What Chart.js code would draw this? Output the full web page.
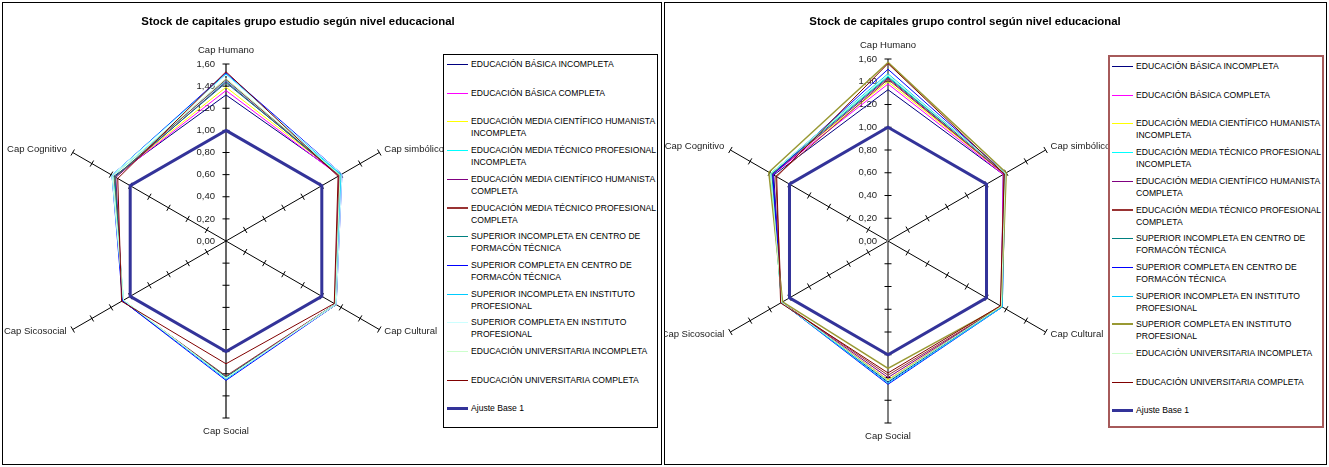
<!DOCTYPE html>
<html>
<head>
<meta charset="utf-8">
<title>Stock de capitales según nivel educacional</title>
<script src="https://cdn.jsdelivr.net/npm/chart.js@4/dist/chart.umd.min.js"></script>
<style>
  body { margin: 0; width: 1329px; height: 467px; background: #fff; position: relative; overflow: hidden;
         font-family: Arial, "Liberation Sans", sans-serif; color: #000; }
  .panel { position: absolute; top: 2px; height: 463px; border: 1px solid #000; box-sizing: border-box; }
  .title { position: absolute; top: 15px; font-weight: bold; font-size: 11.4px; white-space: nowrap;
           transform: translateX(-50%); }
  canvas { position: absolute; top: 0; }
  .legend { position: absolute; box-sizing: border-box; background: #fff; }
  .item { position: absolute; left: 0; right: 0; font-size: 8.6px; line-height: 12.4px; }
  .swatch { position: absolute; top: 6px; height: 0; }
  .label { position: absolute; width: 192px; }
</style>
</head>
<body>

<div class="panel" style="left:2px; width:660px;"></div>
<div class="panel" style="left:664px; width:663px;"></div>

<canvas id="estudio" width="443" height="467" style="left:0;"></canvas>
<canvas id="control" width="444" height="467" style="left:664px;"></canvas>

<div class="title" style="left:298px;">Stock de capitales grupo estudio según nivel educacional</div>
<div class="title" style="left:965px;">Stock de capitales grupo control según nivel educacional</div>

<div class="legend" id="legend-estudio" style="left:443px; top:54px; width:215px; height:374px; border:1px solid #000;"></div>
<div class="legend" id="legend-control" style="left:1108px; top:55px; width:216px; height:373px; border:2px solid #a65a5a;"></div>

<script>
// ─── DATA ─────────────────────────────────────────────────────────────────────
const AXES = ['Cap Humano', 'Cap simbólico', 'Cap Cultural', 'Cap Social', 'Cap Sicosocial', 'Cap Cognitivo'];

const TICK_VALUES = [0, 0.2, 0.4, 0.6, 0.8, 1.0, 1.2, 1.4, 1.6];
const TICK_LABELS = ['0,00', '0,20', '0,40', '0,60', '0,80', '1,00', '1,20', '1,40', '1,60'];

const SERIES_NAMES = [
    'EDUCACIÓN BÁSICA INCOMPLETA',
    'EDUCACIÓN BÁSICA COMPLETA',
    'EDUCACIÓN MEDIA CIENTÍFICO HUMANISTA INCOMPLETA',
    'EDUCACIÓN MEDIA TÉCNICO PROFESIONAL INCOMPLETA',
    'EDUCACIÓN MEDIA CIENTÍFICO HUMANISTA COMPLETA',
    'EDUCACIÓN MEDIA TÉCNICO PROFESIONAL COMPLETA',
    'SUPERIOR INCOMPLETA EN CENTRO DE FORMACÓN TÉCNICA',
    'SUPERIOR COMPLETA EN CENTRO DE FORMACÓN TÉCNICA',
    'SUPERIOR INCOMPLETA EN INSTITUTO PROFESIONAL',
    'SUPERIOR COMPLETA EN INSTITUTO PROFESIONAL',
    'EDUCACIÓN UNIVERSITARIA INCOMPLETA',
    'EDUCACIÓN UNIVERSITARIA COMPLETA',
    'Ajuste Base 1',
];

// one row per series, columns follow AXES
const ESTUDIO_VALUES = [
    [1.32, 1.19, 1.15, 1.24, 1.08, 1.17],
    [1.36, 1.18, 1.14, 1.23, 1.08, 1.16],
    [1.39, 1.19, 1.15, 1.23, 1.08, 1.16],
    [1.45, 1.20, 1.14, 1.24, 1.07, 1.18],
    [1.44, 1.18, 1.14, 1.23, 1.08, 1.15],
    [1.46, 1.18, 1.14, 1.22, 1.08, 1.16],
    [1.43, 1.19, 1.15, 1.23, 1.08, 1.16],
    [1.52, 1.21, 1.15, 1.26, 1.08, 1.19],
    [1.51, 1.20, 1.14, 1.25, 1.07, 1.19],
    [1.50, 1.21, 1.15, 1.24, 1.07, 1.19],
    [1.47, 1.19, 1.14, 1.24, 1.07, 1.18],
    [1.53, 1.17, 1.13, 1.11, 1.09, 1.13],
    [1.00, 1.00, 1.00, 1.00, 1.00, 1.00],
];

const CONTROL_VALUES = [
    [1.33, 1.17, 1.15, 1.24, 1.08, 1.16],
    [1.38, 1.17, 1.15, 1.22, 1.08, 1.17],
    [1.40, 1.18, 1.15, 1.22, 1.08, 1.18],
    [1.45, 1.19, 1.15, 1.23, 1.08, 1.19],
    [1.43, 1.18, 1.15, 1.20, 1.08, 1.17],
    [1.42, 1.18, 1.15, 1.18, 1.08, 1.14],
    [1.44, 1.19, 1.15, 1.23, 1.08, 1.18],
    [1.51, 1.19, 1.16, 1.26, 1.08, 1.17],
    [1.47, 1.19, 1.16, 1.25, 1.08, 1.19],
    [1.57, 1.20, 1.15, 1.12, 1.07, 1.21],
    [1.46, 1.19, 1.15, 1.23, 1.08, 1.19],
    [1.56, 1.18, 1.14, 1.16, 1.09, 1.13],
    [1.00, 1.00, 1.00, 1.00, 1.00, 1.00],
];

const ESTUDIO_COLORS = ['#000080', '#ff00ff', '#ffff00', '#00ffff', '#800080', '#993333',
                        '#008080', '#0000ff', '#00ccff', '#ccffff', '#ccffcc', '#800000', '#333399'];
const CONTROL_COLORS = ['#000080', '#ff00ff', '#ffff00', '#00ffff', '#800080', '#993333',
                        '#008080', '#0000ff', '#00ccff', '#999933', '#ccffcc', '#800000', '#333399'];

const ESTUDIO_WIDTHS = [1, 1, 1, 1, 1, 1, 1, 1, 1, 1, 1, 1, 3];
const CONTROL_WIDTHS = [1, 1, 1, 1, 1, 1, 1, 1, 1, 1.5, 1, 1, 3];

// ─── AXIS DECORATION (tick marks, value labels, axis names) ──────────────────
const axisDecor = {
    id: 'axisDecor',
    beforeDatasetsDraw(chart) {
        const r   = chart.scales.r;
        const ctx = chart.ctx;
        ctx.save();

        // small cross ticks on every spoke
        ctx.strokeStyle = '#000';
        ctx.lineWidth = 1;
        AXES.forEach((_, i) => {
            TICK_VALUES.forEach((v) => {
                if (v === 0) return;
                const p  = r.getPointPositionForValue(i, v);
                const nx = -Math.sin(p.angle), ny = Math.cos(p.angle);
                ctx.beginPath();
                ctx.moveTo(p.x - nx * 3.5, p.y - ny * 3.5);
                ctx.lineTo(p.x + nx * 3.5, p.y + ny * 3.5);
                ctx.stroke();
            });
        });

        // value labels left of the vertical spoke
        ctx.fillStyle = '#222';
        ctx.font = '9.5px Arial, "Liberation Sans", sans-serif';
        ctx.textAlign = 'right';
        ctx.textBaseline = 'middle';
        TICK_VALUES.forEach((v, k) => {
            const p = r.getPointPositionForValue(0, v);
            ctx.fillText(TICK_LABELS[k], p.x - 11, p.y);
        });

        // axis names just past the end of each spoke
        AXES.forEach((name, i) => {
            const p  = r.getPointPositionForValue(i, r.max);
            const cx = Math.cos(p.angle), sy = Math.sin(p.angle);
            if (Math.abs(cx) < 0.1) {
                ctx.textAlign = 'center';
                ctx.fillText(name, p.x, p.y + (sy < 0 ? -14 : 13));
            } else {
                ctx.textAlign = cx > 0 ? 'left' : 'right';
                ctx.fillText(name, p.x + (cx > 0 ? 5 : -6), p.y + (sy < 0 ? -3.5 : 2));
            }
        });
        ctx.restore();
    },
};

// ─── CHART ────────────────────────────────────────────────────────────────────
function buildRadar(canvasId, values, colors, widths, padding, spokeColor, spokeWidth) {
    return new Chart(document.getElementById(canvasId), {
        type: 'radar',
        data: {
            labels: AXES,
            datasets: values.map((row, i) => ({
                label: SERIES_NAMES[i],
                data: row,
                borderColor: colors[i],
                borderWidth: widths[i],
                fill: false,
                pointRadius: 0,
                pointHoverRadius: 0,
                order: values.length - i,
            })),
        },
        options: {
            responsive: false,
            animation: false,
            layout: { padding },
            elements: { line: { tension: 0 } },
            plugins: {
                legend: { display: false },
                tooltip: { enabled: false },
            },
            scales: {
                r: {
                    min: 0,
                    max: 1.6,
                    ticks: { display: false, stepSize: 0.2 },
                    grid: { display: false },
                    pointLabels: { display: false },
                    angleLines: {
                        color: (c) => (c.index === 0 || c.index === 3) ? spokeColor : '#000',
                        lineWidth: (c) => (c.index === 0 || c.index === 3) ? spokeWidth : 1,
                    },
                },
            },
        },
        plugins: [axisDecor],
    });
}

buildRadar('estudio', ESTUDIO_VALUES, ESTUDIO_COLORS, ESTUDIO_WIDTHS,
    { left: 49, right: 40, top: 64, bottom: 49 }, '#000', 1.2);
buildRadar('control', CONTROL_VALUES, CONTROL_COLORS, CONTROL_WIDTHS,
    { left: 42, right: 38, top: 59, bottom: 44 }, '#808080', 2);

// ─── LEGENDS ──────────────────────────────────────────────────────────────────
function buildLegend(id, colors, swatchLeft, textLeft) {
    const box = document.getElementById(id);
    SERIES_NAMES.forEach((name, i) => {
        const item = document.createElement('div');
        item.className = 'item';
        item.style.top = Math.round(3 + 28.7 * i) + 'px';

        const sw = document.createElement('div');
        sw.className = 'swatch';
        sw.style.left = swatchLeft + 'px';
        sw.style.width = (textLeft - swatchLeft - 3) + 'px';
        const w = i === 12 ? 3 : (i === 5 || (id === 'legend-control' && i === 9)) ? 2 : 1.5;
        sw.style.borderTop = `${w}px solid ${colors[i]}`;
        sw.style.marginTop = (-Math.floor(w / 2)) + 'px';

        const tx = document.createElement('div');
        tx.className = 'label';
        tx.style.left = textLeft + 'px';
        tx.textContent = name;

        item.appendChild(sw);
        item.appendChild(tx);
        box.appendChild(item);
    });
}

buildLegend('legend-estudio', ESTUDIO_COLORS, 3, 27);
buildLegend('legend-control', CONTROL_COLORS, 2, 26);
</script>
</body>
</html>
